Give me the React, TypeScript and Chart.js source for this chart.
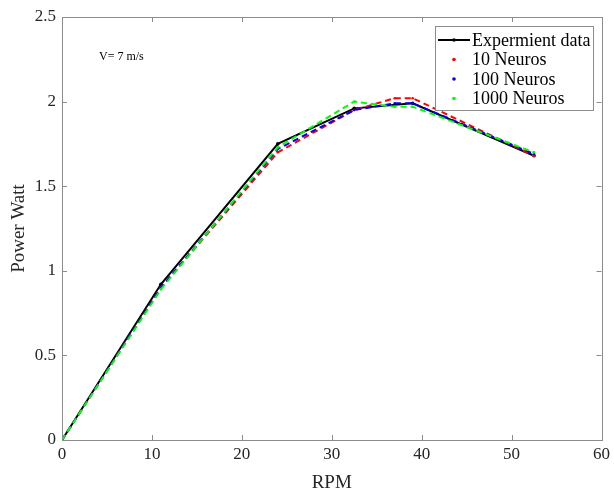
import React, { useEffect, useRef } from "react";
import { Chart, registerables } from "chart.js";

Chart.register(...registerables);

const expRpm = [0, 11, 24, 32.5, 39, 52.5];
const expPower = [0, 0.92, 1.75, 1.96, 1.99, 1.68];
const nnRpm = [0, 11, 24, 32.5, 37, 39, 52.5];
const neuros10 = [0, 0.9, 1.7, 1.95, 2.02, 2.02, 1.68];
const neuros100 = [0, 0.9, 1.72, 1.95, 1.99, 1.99, 1.69];
const neuros1000 = [0, 0.89, 1.73, 2.0, 1.97, 1.97, 1.7];
const xTicks = [0, 10, 20, 30, 40, 50, 60];
const yTicks = [0, 0.5, 1, 1.5, 2, 2.5];
const legendLabels = ["Expermient data", "10 Neuros", "100 Neuros", "1000 Neuros"];
const seriesColors = ["#000000", "#ff0000", "#0000ff", "#00ff00"];

const FONT = "'Liberation Serif', 'Times New Roman', serif";
const AXIS = "#8c8c8c";

const pts = (xs: number[], ys: number[]) => xs.map((x, i) => ({ x, y: ys[i] }));

const framePlugin = {
  id: "frame",
  afterDatasetsDraw(chart: any) {
    const { ctx, chartArea: a, scales } = chart;
    ctx.save();
    ctx.strokeStyle = AXIS;
    ctx.lineWidth = 1;
    ctx.strokeRect(Math.round(a.left) + 0.5, Math.round(a.top) + 0.5, Math.round(a.right - a.left), Math.round(a.bottom - a.top));
    const tl = 5;
    ctx.beginPath();
    xTicks.forEach((v) => {
      const x = Math.round(scales.x.getPixelForValue(v)) + 0.5;
      ctx.moveTo(x, a.bottom);
      ctx.lineTo(x, a.bottom - tl);
      ctx.moveTo(x, a.top);
      ctx.lineTo(x, a.top + tl);
    });
    yTicks.forEach((v) => {
      const y = Math.round(scales.y.getPixelForValue(v)) + 0.5;
      ctx.moveTo(a.left, y);
      ctx.lineTo(a.left + tl, y);
      ctx.moveTo(a.right, y);
      ctx.lineTo(a.right - tl, y);
    });
    ctx.stroke();

    // annotation
    ctx.fillStyle = "#000";
    ctx.font = `12px ${FONT}`;
    ctx.textBaseline = "middle";
    ctx.textAlign = "left";
    ctx.fillText("V= 7 m/s", 99, 57);

    // legend
    const lx = 435, ly = 26, lw = 158, lh = 84;
    ctx.fillStyle = "#fff";
    ctx.fillRect(lx, ly, lw, lh);
    ctx.strokeStyle = AXIS;
    ctx.strokeRect(lx + 0.5, ly + 0.5, lw, lh);
    ctx.font = `18px ${FONT}`;
    legendLabels.forEach((lab, i) => {
      const y = ly + 14 + i * 19.5;
      ctx.fillStyle = seriesColors[i];
      ctx.strokeStyle = seriesColors[i];
      if (i === 0) {
        ctx.lineWidth = 2;
        ctx.beginPath();
        ctx.moveTo(lx + 3, y);
        ctx.lineTo(lx + 35, y);
        ctx.stroke();
      }
      ctx.beginPath();
      ctx.arc(lx + 19, y, 1.8, 0, Math.PI * 2);
      ctx.fill();
      ctx.fillStyle = "#000";
      ctx.fillText(lab, lx + 37, y + 1);
    });
    ctx.restore();
  },
};

export default function App() {
  const ref = useRef<HTMLCanvasElement>(null);
  useEffect(() => {
    document.body.style.margin = "0";
    const mk = (label: string, data: any, color: string, dashed: boolean, order: number) => ({
      label,
      data,
      borderColor: color,
      backgroundColor: color,
      borderWidth: 2,
      borderDash: dashed ? [6, 4] : [],
      showLine: true,
      pointRadius: dashed ? 1.3 : 1.8,
      pointBorderWidth: 0,
      order,
    });
    const chart = new Chart(ref.current!, {
      type: "scatter",
      data: {
        datasets: [
          mk(legendLabels[0], pts(expRpm, expPower), seriesColors[0], false, 4),
          mk(legendLabels[1], pts(nnRpm, neuros10), seriesColors[1], true, 3),
          mk(legendLabels[2], pts(nnRpm, neuros100), seriesColors[2], true, 2),
          mk(legendLabels[3], pts(nnRpm, neuros1000), seriesColors[3], true, 1),
        ],
      },
      options: {
        animation: false,
        responsive: false,
        layout: { padding: { top: 17, right: 10, left: 8, bottom: 0 } },
        plugins: { legend: { display: false }, tooltip: { enabled: false } },
        scales: {
          x: {
            type: "linear",
            min: 0,
            max: 60,
            afterBuildTicks: (s: any) => { s.ticks = xTicks.map((v) => ({ value: v })); },
            afterFit: (s: any) => { s.height = 54; },
            grid: { display: false, drawTicks: false },
            border: { display: false },
            ticks: { color: "#262626", font: { family: FONT, size: 17 }, padding: 4, callback: (v: any) => String(v) },
            title: { display: true, text: "RPM", color: "#262626", font: { family: FONT, size: 19 }, padding: { top: 0, bottom: 0 } },
          },
          y: {
            type: "linear",
            min: 0,
            max: 2.5,
            afterBuildTicks: (s: any) => { s.ticks = yTicks.map((v) => ({ value: v })); },
            afterFit: (s: any) => { s.width = 54; },
            grid: { display: false, drawTicks: false },
            border: { display: false },
            ticks: { color: "#262626", font: { family: FONT, size: 17 }, padding: 6, callback: (v: any) => String(v) },
            title: { display: true, text: "Power Watt", color: "#262626", font: { family: FONT, size: 19 }, padding: { top: 0, bottom: 8 } },
          },
        },
      },
      plugins: [framePlugin],
    } as any);
    return () => chart.destroy();
  }, []);
  return <canvas ref={ref} width={614} height={494} style={{ display: "block" }} />;
}
